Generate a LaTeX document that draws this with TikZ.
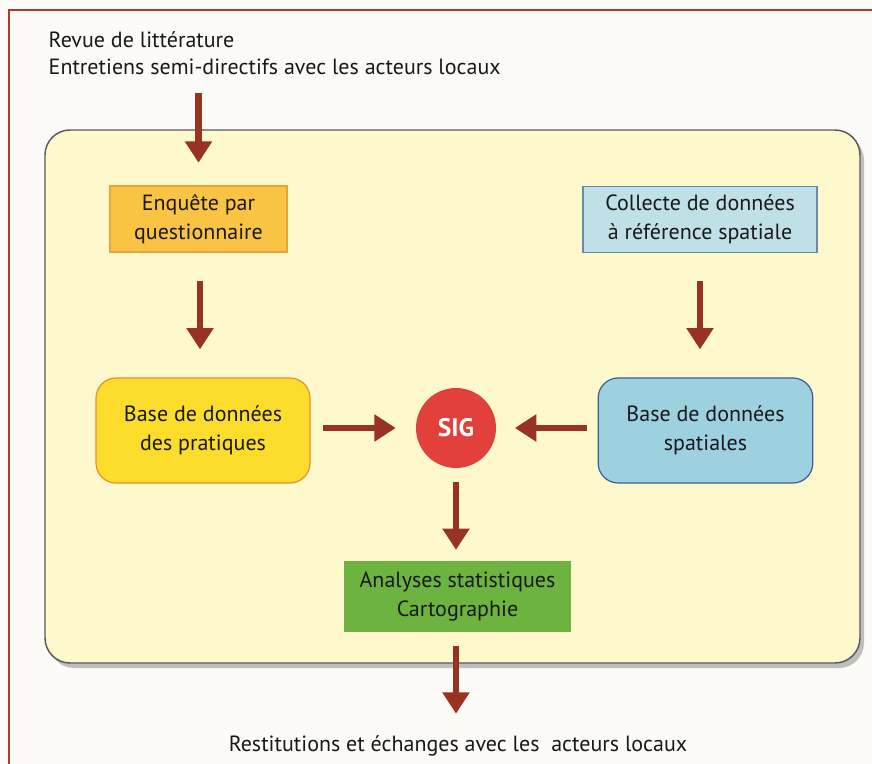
\documentclass[tikz,border=0pt]{standalone}
\usepackage{fontspec}
\setmainfont{PT Sans}
\usetikzlibrary{arrows.meta, positioning, calc}
\definecolor{framered}{RGB}{176, 57, 43}
\definecolor{paper}{RGB}{253, 251, 248}
\definecolor{zoneyellow}{RGB}{253, 249, 204}
\definecolor{enqorange}{RGB}{249, 196, 67}
\definecolor{enqline}{RGB}{232, 163, 58}
\definecolor{prayellow}{RGB}{252, 221, 44}
\definecolor{praline}{RGB}{233, 142, 46}
\definecolor{colblue}{RGB}{191, 224, 230}
\definecolor{colline}{RGB}{108, 138, 168}
\definecolor{spablue}{RGB}{157, 209, 224}
\definecolor{spaline}{RGB}{63, 90, 154}
\definecolor{sigred}{RGB}{226, 64, 58}
\definecolor{anagreen}{RGB}{109, 179, 63}
\definecolor{arrowred}{RGB}{152, 51, 36}

\begin{document}
\begin{tikzpicture}[x=0.75pt, y=-0.75pt,
    every node/.style={font=\fontsize{16.5}{21.5}\selectfont, text=black!90},
    box/.style={rectangle, align=center, inner sep=0pt, line width=0.9pt},
    arrow/.style={-{Triangle[width=19.5pt, length=16pt]}, line width=5.2pt, arrowred}
]
\useasboundingbox (0,0) rectangle (872,764);
% page and frame
\fill[paper] (0,0) rectangle (872,764);
\draw[framered, line width=1.6pt] (9,10) rectangle (890,790);

% main zone with shadow
\fill[black!25, rounded corners=18.75pt] (49,135) rectangle (864,668);
\draw[black!65, line width=1.1pt, fill=zoneyellow, rounded corners=18.75pt] (45,130) rectangle (860,663);

% input text
\node[anchor=west, align=left, font=\fontsize{16.5}{20.25}\selectfont] (intro) at (44,53) {Revue de littérature\\Entretiens semi-directifs avec les acteurs locaux};

% survey branch
\node[box, fill=enqorange, draw=enqline, minimum width=132.75pt, minimum height=49.5pt] (enq) at (198.5,219) {Enquête par\\questionnaire};
\node[box, fill=prayellow, draw=praline, rounded corners=15pt, minimum width=160.5pt, minimum height=78.75pt] (pra) at (203,430.5) {Base de données\\des pratiques};

% spatial branch
\node[box, fill=colblue, draw=colline, minimum width=175.5pt, minimum height=50pt] (col) at (700,219.5) {Collecte de données\\à référence spatiale};
\node[box, fill=spablue, draw=spaline, rounded corners=15pt, minimum width=161pt, minimum height=78.75pt] (spa) at (705.5,430.5) {Base de données\\spatiales};

% GIS and outputs
\node[circle, fill=sigred, minimum size=60pt, inner sep=0pt, text=white, font=\fontsize{19}{21}\selectfont\bfseries] (sig) at (456,428) {SIG};
\node[box, fill=anagreen, minimum width=170pt, minimum height=53pt] (ana) at (457.5,596.5) {Analyses statistiques\\Cartographie};
\node (out) at (458,746) {Restitutions et échanges avec les~~acteurs locaux};

% Arrows
\draw[arrow, shorten <=10pt, shorten >=17pt] (enq |- intro.south) -- (enq.north);
\draw[arrow, shorten <=21pt, shorten >=21pt] (enq.south -| 200,0) -- (pra.north -| 200,0);
\draw[arrow, shorten <=21pt, shorten >=21pt] (col.south) -- (col.south |- spa.north);
\draw[arrow, shorten <=9pt, shorten >=15pt] (pra.east |- sig) -- (sig.west);
\draw[arrow, shorten <=8pt, shorten >=14pt] (spa.west |- sig) -- (sig.east);
\draw[arrow, shorten <=10pt, shorten >=8pt] (sig.south) -- (sig.south |- ana.north);
\draw[arrow, shorten <=10pt, shorten >=13pt] (sig.south |- ana.south) -- (sig.south |- out.north);
\end{tikzpicture}
\end{document}
